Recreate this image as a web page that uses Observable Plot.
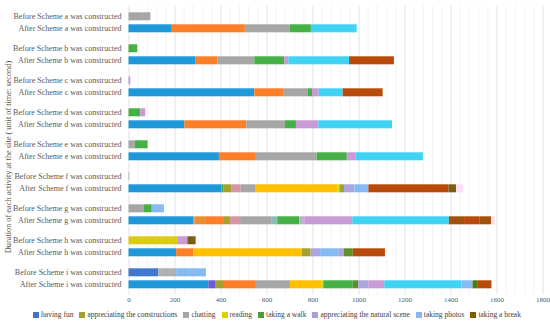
<!DOCTYPE html>
<html>
<head>
<meta charset="utf-8">
<script src="https://cdn.jsdelivr.net/npm/d3@7"></script>
<script src="https://cdn.jsdelivr.net/npm/@observablehq/plot@0.6"></script>
<style>
  html, body { margin: 0; padding: 0; background: #fff; }
  #wrap { position: relative; width: 550px; height: 323px; font-family: "Liberation Serif", "DejaVu Serif", serif; }
  #ytitle { position: absolute; left: 8px; top: 157px; transform: translate(-50%, -50%) rotate(-90deg); white-space: nowrap; font-size: 8.3px; color: #505050; }
  #legend { position: absolute; left: 0; top: 310px; width: 550px; display: flex; justify-content: center; gap: 6px; font-size: 7.5px; color: #404040; line-height: 10px; padding-left: 2px; }
  #legend span.item { display: inline-flex; align-items: center; }
  #legend span.sw { width: 6px; height: 6px; display: inline-block; margin-right: 2px; }
  svg text { fill: #595959; }
</style>
</head>
<body>
<div id="wrap">
  <div id="chart"></div>
  <div id="ytitle">Duration of each activity at the site ( unit of time: second)</div>
  <div id="legend"></div>
</div>
<script>
// ---- data ----
const groups = ["a", "b", "c", "d", "e", "f", "g", "h", "i"];
const phases = ["Before", "After"];
const xTicks = [0, 200, 400, 600, 800, 1000, 1200, 1400, 1600, 1800];
const legendNames = ["having fun", "appreciating the constructions", "chatting", "reading",
  "taking a walk", "appreciating the natural scene", "taking photos", "taking a break"];

// segment kinds (in stack order) and durations in seconds, one pair per bar
const aBeforeKinds = ["chatting"];
const aBeforeValues = [95];
const aAfterKinds = ["having fun", "appreciating the constructions", "chatting", "taking a walk", "taking photos"];
const aAfterValues = [188, 318, 196, 91, 199];

const bBeforeKinds = ["taking a walk"];
const bBeforeValues = [38];
const bAfterKinds = ["having fun", "appreciating the constructions", "chatting", "taking a walk", "appreciating the natural scene", "taking photos", "taking a break"];
const bAfterValues = [292, 94, 161, 130, 18, 264, 195];

const cBeforeKinds = ["appreciating the natural scene"];
const cBeforeValues = [8];
const cAfterKinds = ["having fun", "appreciating the constructions", "chatting", "taking a walk", "appreciating the natural scene", "taking photos", "taking a break"];
const cAfterValues = [547, 125, 108, 18, 29, 104, 174];

const dBeforeKinds = ["taking a walk", "appreciating the natural scene"];
const dBeforeValues = [51, 22];
const dAfterKinds = ["having fun", "appreciating the constructions", "chatting", "taking a walk", "appreciating the natural scene", "taking photos"];
const dAfterValues = [243, 269, 168, 48, 97, 321];

const eBeforeKinds = ["chatting", "taking a walk"];
const eBeforeValues = [27, 56];
const eAfterKinds = ["having fun", "appreciating the constructions", "chatting", "taking a walk", "appreciating the natural scene", "taking photos"];
const eAfterValues = [393, 157, 268, 131, 37, 294];

const fBeforeKinds = ["chatting"];
const fBeforeValues = [3];
const fAfterKinds = ["having fun", "taking a walk", "constructions 2", "pink", "chatting", "reading", "lime",
  "constructions 2", "natural scene 2", "photos 2", "taking a break", "break 2", "faint pink"];
const fAfterValues = [405, 9, 32, 42, 62, 359, 8, 20, 45, 61, 348, 33, 32];

const gBeforeKinds = ["chatting", "taking a walk", "photos 2"];
const gBeforeValues = [67, 34, 53];
const gAfterKinds = ["having fun", "magenta", "dark orange", "appreciating the constructions", "constructions 2", "pink",
  "chatting", "teal", "taking a walk", "lavender gray", "appreciating the natural scene", "taking photos",
  "mid brown", "taking a break", "mid brown", "faint pink"];
const gAfterValues = [282, 4, 47, 82, 26, 44, 138, 24, 96, 21, 209, 420, 66, 66, 51, 17];

const hBeforeKinds = ["reading 2", "appreciating the natural scene", "break 2"];
const hBeforeValues = [212, 44, 36];
const hAfterKinds = ["having fun", "appreciating the constructions", "reading", "constructions 2", "natural scene 2",
  "photos 2", "natural scene 2", "walk 2", "taking a break"];
const hAfterValues = [207, 75, 471, 39, 41, 79, 25, 38, 140];

const iBeforeKinds = ["having fun 2", "light gray", "photos 2"];
const iBeforeValues = [130, 77, 130];
const iAfterKinds = ["having fun", "indigo", "constructions 2", "appreciating the constructions", "chatting", "reading",
  "lime", "taking a walk", "walk 2", "natural scene 2", "appreciating the natural scene", "taking photos",
  "photos 2", "dark green", "taking a break"];
const iAfterValues = [347, 29, 39, 139, 148, 135, 10, 128, 24, 44, 69, 336, 48, 20, 62];

// ---- styles (not data) ----
const kindColors = new Map([
  ["having fun", "#1f9ad8"],
  ["appreciating the constructions", "#fd7f28"],
  ["chatting", "#a6a6a6"],
  ["reading", "#ffc000"],
  ["taking a walk", "#46af46"],
  ["appreciating the natural scene", "#c89ad6"],
  ["taking photos", "#40d3f3"],
  ["taking a break", "#b84a0c"],
  ["having fun 2", "#3f78cf"],
  ["constructions 2", "#a6a02e"],
  ["reading 2", "#dccc10"],
  ["walk 2", "#5e8f2a"],
  ["natural scene 2", "#aaa6de"],
  ["photos 2", "#86baf2"],
  ["break 2", "#7b5e12"],
  ["pink", "#d696a2"],
  ["faint pink", "#fbe0f4"],
  ["lime", "#c6e02a"],
  ["magenta", "#d060c0"],
  ["indigo", "#6b5cd4"],
  ["teal", "#8cbcb8"],
  ["dark orange", "#e8902e"],
  ["lavender gray", "#b8b4d0"],
  ["mid brown", "#a0520c"],
  ["light gray", "#b0b0b0"],
  ["dark green", "#4a7a10"]
]);
const legendColors = ["#4472c4", "#a5a02a", "#a5a5a5", "#d6d400", "#4f9a3b", "#a99ddc", "#8ab8f5", "#7f5b00"];

// ---- build table ----
const barSources = {
  a: [[aBeforeKinds, aBeforeValues], [aAfterKinds, aAfterValues]],
  b: [[bBeforeKinds, bBeforeValues], [bAfterKinds, bAfterValues]],
  c: [[cBeforeKinds, cBeforeValues], [cAfterKinds, cAfterValues]],
  d: [[dBeforeKinds, dBeforeValues], [dAfterKinds, dAfterValues]],
  e: [[eBeforeKinds, eBeforeValues], [eAfterKinds, eAfterValues]],
  f: [[fBeforeKinds, fBeforeValues], [fAfterKinds, fAfterValues]],
  g: [[gBeforeKinds, gBeforeValues], [gAfterKinds, gAfterValues]],
  h: [[hBeforeKinds, hBeforeValues], [hAfterKinds, hAfterValues]],
  i: [[iBeforeKinds, iBeforeValues], [iAfterKinds, iAfterValues]]
};
const segs = [];
const rows = [];
for (const g of groups) {
  phases.forEach((p, pi) => {
    rows.push({group: g, phase: p, label: `${p} Scheme ${g} was constructed`});
    const [kinds, values] = barSources[g][pi];
    kinds.forEach((k, j) => segs.push({group: g, phase: p, kind: k, value: values[j]}));
  });
}
const minor = d3.range(0, 1801, 40).filter(v => v % 200 !== 0);

const chart = Plot.plot({
  width: 550,
  height: 310,
  marginLeft: 128.5,
  marginRight: 7.5,
  marginTop: 5.7,
  marginBottom: 16.8,
  style: {fontFamily: "'Liberation Serif', serif", fontSize: "7px", color: "#595959", background: "#fff"},
  x: {domain: [0, 1800], ticks: xTicks, tickFormat: d => String(d), tickSize: 0, tickPadding: 5, label: null},
  y: {domain: phases, axis: null, padding: 1/3},
  fy: {domain: groups, axis: null, paddingInner: 0.137, paddingOuter: 0},
  color: {domain: [...kindColors.keys()], range: [...kindColors.values()]},
  marks: [
    Plot.ruleX(minor, {stroke: "#f0f0f0", strokeWidth: 0.8, insetTop: -2.5, insetBottom: -2.5}),
    Plot.ruleX(xTicks, {stroke: "#dcdcdc", strokeWidth: 0.8, insetTop: -2.5, insetBottom: -2.5}),
    Plot.barX(segs, Plot.stackX({x: "value", y: "phase", fy: "group", fill: "kind", order: null})),
    Plot.text(rows, {y: "phase", fy: "group", text: "label", frameAnchor: "left", textAnchor: "end", dx: -7.5, fontSize: 8, fill: "#404040"})
  ]
});
document.getElementById("chart").appendChild(chart);

const legend = document.getElementById("legend");
legendNames.forEach((n, i) => {
  const item = document.createElement("span");
  item.className = "item";
  const sw = document.createElement("span");
  sw.className = "sw";
  sw.style.background = legendColors[i];
  item.appendChild(sw);
  item.appendChild(document.createTextNode(n));
  legend.appendChild(item);
});
</script>
</body>
</html>
